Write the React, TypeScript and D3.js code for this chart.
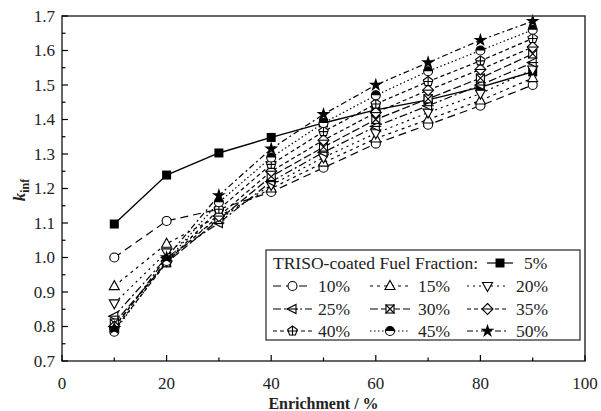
import React from "react";
import * as d3 from "d3";

const enrichment = [10, 20, 30, 40, 50, 60, 70, 80, 90];
const seriesNames = ["5%", "10%", "15%", "20%", "25%", "30%", "35%", "40%", "45%", "50%"];
const k5 = [1.097, 1.239, 1.303, 1.348, 1.39, 1.428, 1.457, 1.494, 1.538];
const k10 = [1.0, 1.106, 1.14, 1.19, 1.26, 1.33, 1.385, 1.44, 1.5];
const k15 = [0.917, 1.04, 1.12, 1.2, 1.275, 1.345, 1.4, 1.455, 1.52];
const k20 = [0.867, 1.015, 1.11, 1.21, 1.29, 1.36, 1.42, 1.475, 1.545];
const k25 = [0.83, 1.0, 1.1, 1.22, 1.305, 1.38, 1.44, 1.5, 1.565];
const k30 = [0.81, 0.985, 1.11, 1.235, 1.32, 1.4, 1.46, 1.52, 1.59];
const k35 = [0.8, 0.99, 1.12, 1.25, 1.34, 1.42, 1.485, 1.545, 1.61];
const k40 = [0.79, 0.985, 1.14, 1.27, 1.365, 1.445, 1.51, 1.57, 1.635];
const k45 = [0.785, 0.99, 1.16, 1.29, 1.39, 1.47, 1.54, 1.6, 1.66];
const k50 = [0.795, 1.0, 1.18, 1.315, 1.415, 1.5, 1.565, 1.63, 1.685];
const seriesValues = [k5, k10, k15, k20, k25, k30, k35, k40, k45, k50];
const xTicks = [0, 20, 40, 60, 80, 100];
const yTicks = [0.7, 0.8, 0.9, 1.0, 1.1, 1.2, 1.3, 1.4, 1.5, 1.6, 1.7];

const dashes = ["", "8,5", "3,4", "2,4", "8,3,2,3", "8,3", "4,3", "4,3", "1.5,2.5", "6,3,2,3"];
const markerKinds = ["sqFill", "circle", "triUp", "triDown", "triLeft", "sqX", "diamond", "pentagon", "halfCircle", "star"];

const W = 601, H = 411;
const L = 62, R = 585, T = 16, B = 361;
const FONT = "'Liberation Serif', 'Times New Roman', serif";
const TXT = "#222";

function Marker({ kind, x, y }: { kind: string; x: number; y: number }) {
  const s = 4.5;
  const st = { stroke: "#000", strokeWidth: 1.1 } as any;
  switch (kind) {
    case "sqFill":
      return <rect x={x - s} y={y - s} width={2 * s} height={2 * s} fill="#000" />;
    case "circle":
      return <circle cx={x} cy={y} r={s} fill="#fff" {...st} />;
    case "triUp":
      return <path d={`M${x},${y - s - 1}L${x + s + 0.5},${y + s - 1}L${x - s - 0.5},${y + s - 1}Z`} fill="#fff" {...st} />;
    case "triDown":
      return <path d={`M${x},${y + s + 1}L${x + s + 0.5},${y - s + 1}L${x - s - 0.5},${y - s + 1}Z`} fill="#fff" {...st} />;
    case "triLeft":
      return (
        <g>
          <path d={`M${x - s - 1},${y}L${x + s - 1},${y - s}L${x + s - 1},${y + s}Z`} fill="#fff" {...st} />
          <path d={`M${x - s - 1},${y}L${x + s + 1},${y}`} {...st} />
        </g>
      );
    case "sqX":
      return (
        <g>
          <rect x={x - s + 0.5} y={y - s + 0.5} width={2 * s - 1} height={2 * s - 1} fill="#fff" {...st} />
          <path d={`M${x - s},${y - s}L${x + s},${y + s}M${x - s},${y + s}L${x + s},${y - s}`} {...st} />
        </g>
      );
    case "diamond":
      return (
        <g>
          <path d={`M${x},${y - s - 1}L${x + s + 1},${y}L${x},${y + s + 1}L${x - s - 1},${y}Z`} fill="#fff" {...st} />
          <path d={`M${x - s - 1},${y}L${x + s + 1},${y}`} {...st} />
        </g>
      );
    case "pentagon": {
      const pts = d3.range(5).map((i) => {
        const a = -Math.PI / 2 + (i * 2 * Math.PI) / 5;
        return [x + (s + 0.5) * Math.cos(a), y + (s + 0.5) * Math.sin(a)];
      });
      return (
        <g>
          <path d={"M" + pts.map((p) => p.join(",")).join("L") + "Z"} fill="#fff" {...st} />
          <path d={`M${x},${y - s}L${x},${y + s}M${x - s},${y}L${x + s},${y}`} {...st} />
        </g>
      );
    }
    case "halfCircle":
      return (
        <g>
          <circle cx={x} cy={y} r={s} fill="#fff" {...st} />
          <path d={`M${x - s},${y}A${s},${s} 0 0 1 ${x + s},${y}Z`} fill="#000" />
        </g>
      );
    case "star": {
      const star = d3.symbol(d3.symbolStar, 60)();
      return <path d={star || ""} transform={`translate(${x},${y})`} fill="#000" />;
    }
  }
  return null;
}

export default function App() {
  const x = d3.scaleLinear().domain([0, 100]).range([L, R]);
  const y = d3.scaleLinear().domain([0.7, 1.7]).range([B, T]);
  const line = d3
    .line<[number, number]>()
    .x((d) => x(d[0]))
    .y((d) => y(d[1]));

  const xMinor = d3.range(10, 100, 20);
  const yMinor = d3.range(0, 10).map((i) => 0.75 + i * 0.1);

  const lgX = 266, lgY = 250, lgW = 314, lgH = 90;
  const rowY = [263, 286, 309, 331];
  const colSample = [[273, 312], [370, 410], [467, 508]];
  const colText = [318, 418, 516];

  const legendItems: { i: number; x0: number; x1: number; tx: number; yy: number }[] = [];
  legendItems.push({ i: 0, x0: 487, x1: 513, tx: 524, yy: rowY[0] });
  for (let i = 1; i < 10; i++) {
    const r = Math.floor((i - 1) / 3) + 1;
    const c = (i - 1) % 3;
    legendItems.push({ i, x0: colSample[c][0], x1: colSample[c][1], tx: colText[c], yy: rowY[r] });
  }

  return (
    <svg width={W} height={H} style={{ position: "absolute", left: 0, top: 0, background: "#fff" }} fontFamily={FONT}>
      <rect x={0} y={0} width={W} height={H} fill="#fff" />
      {seriesValues.map((vals, si) => (
        <path
          key={"l" + si}
          d={line(enrichment.map((e, j) => [e, vals[j]] as [number, number])) || ""}
          fill="none"
          stroke="#000"
          strokeWidth={si === 0 ? 1.4 : 1.2}
          strokeDasharray={dashes[si]}
        />
      ))}
      {seriesValues.map((vals, si) =>
        enrichment.map((e, j) => <Marker key={`m${si}-${j}`} kind={markerKinds[si]} x={x(e)} y={y(vals[j])} />)
      )}
      <rect x={L} y={T} width={R - L} height={B - T} fill="none" stroke="#333" strokeWidth={1.5} />
      {xTicks.map((t) => (
        <g key={"xt" + t}>
          <line x1={x(t)} x2={x(t)} y1={B} y2={B - 6} stroke="#000" strokeWidth={1.2} />
          <text x={x(t)} y={389} textAnchor="middle" fontSize={17} fill={TXT}>
            {t}
          </text>
        </g>
      ))}
      {xMinor.map((t) => (
        <line key={"xm" + t} x1={x(t)} x2={x(t)} y1={B} y2={B - 3.5} stroke="#000" strokeWidth={1.2} />
      ))}
      {yTicks.map((t) => (
        <g key={"yt" + t}>
          <line x1={L} x2={L + 6} y1={y(t)} y2={y(t)} stroke="#000" strokeWidth={1.2} />
          <text x={55} y={y(t) + 5.5} textAnchor="end" fontSize={17} fill={TXT}>
            {t.toFixed(1)}
          </text>
        </g>
      ))}
      {yMinor.map((t) => (
        <line key={"ym" + t} x1={L} x2={L + 3.5} y1={y(t)} y2={y(t)} stroke="#000" strokeWidth={1.2} />
      ))}
      <text x={(L + R) / 2} y={409} textAnchor="middle" fontSize={16} fontWeight="bold" fill={TXT}>
        Enrichment / %
      </text>
      <text transform={`translate(25,190) rotate(-90)`} textAnchor="middle" fontSize={17} fontWeight="bold" fill={TXT}>
        <tspan fontStyle="italic">k</tspan>
        <tspan fontSize={12} dy={4}>inf</tspan>
      </text>
      <rect x={lgX} y={lgY} width={lgW} height={lgH} fill="#fff" stroke="#333" strokeWidth={1.3} />
      <text x={273} y={rowY[0] + 5.5} fontSize={17.5} fill={TXT}>
        TRISO-coated Fuel Fraction:
      </text>
      {legendItems.map((it) => (
        <g key={"lg" + it.i}>
          <line
            x1={it.x0}
            x2={it.x1}
            y1={it.yy}
            y2={it.yy}
            stroke="#000"
            strokeWidth={1.2}
            strokeDasharray={dashes[it.i]}
          />
          <Marker kind={markerKinds[it.i]} x={(it.x0 + it.x1) / 2} y={it.yy} />
          <text x={it.tx} y={it.yy + 5.5} fontSize={17.5} fill={TXT}>
            {seriesNames[it.i]}
          </text>
        </g>
      ))}
    </svg>
  );
}
